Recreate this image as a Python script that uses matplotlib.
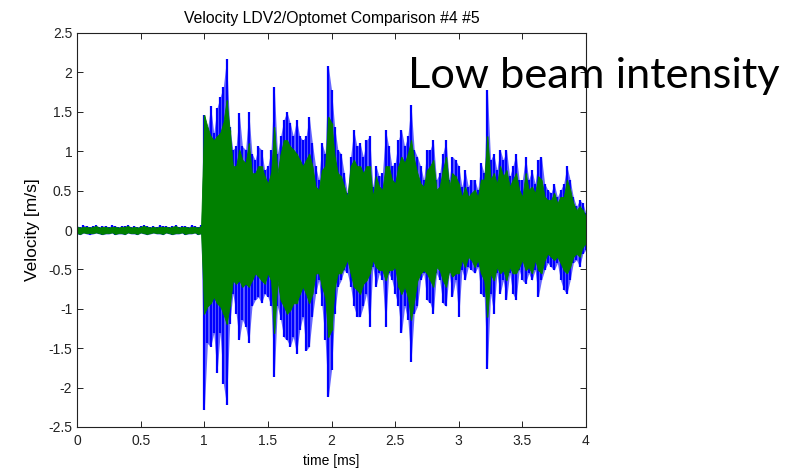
import numpy as np
import matplotlib.pyplot as plt

plt.rcParams['font.family'] = ['Liberation Sans', 'DejaVu Sans']
plt.rcParams['axes.unicode_minus'] = False

# sample instants of the envelope readings [ms]
t = np.linspace(0, 4, 161)

# LDV2 (blue) upper / lower peaks, read every 0.025 ms
ldv_up = [0.05, 0.04, 0.06, 0.05, 0.04, 0.05, 0.06, 0.04, 0.05, 0.05,
          0.04, 0.06, 0.05, 0.04, 0.05, 0.05, 0.06, 0.04, 0.05, 0.04,
          0.05, 0.06, 0.05, 0.04, 0.05, 0.04, 0.06, 0.05, 0.05, 0.04,
          0.05, 0.06, 0.04, 0.05, 0.05, 0.04, 0.06, 0.05, 0.04, 0.06,
          1.46, 1.27, 1.57, 1.23, 1.55, 1.69, 1.82, 2.17, 1.31, 1.02,
          1.06, 1.48, 1.06, 1.02, 1.50, 0.97, 0.89, 1.06, 1.02, 0.76,
          0.81, 1.02, 1.82, 0.97, 1.19, 1.40, 1.50, 1.36, 1.19, 1.40,
          1.19, 1.14, 1.19, 1.44, 1.10, 0.81, 0.64, 1.10, 0.97, 2.08,
          1.78, 1.31, 1.02, 0.97, 0.72, 0.47, 0.93, 1.27, 1.06, 1.10,
          0.93, 1.14, 1.19, 0.55, 0.81, 0.68, 0.72, 1.27, 1.06, 0.81,
          0.85, 1.14, 1.27, 1.06, 1.19, 1.59, 1.02, 0.93, 0.81, 0.64,
          1.02, 1.02, 1.14, 0.64, 0.72, 0.97, 1.14, 0.64, 0.93, 0.89,
          0.81, 0.55, 0.76, 0.55, 0.64, 0.64, 0.51, 0.85, 0.72, 1.78,
          0.89, 0.97, 0.76, 1.02, 0.89, 1.02, 0.68, 0.81, 0.97, 0.64,
          0.64, 0.93, 0.64, 0.76, 0.59, 0.89, 0.93, 0.59, 0.51, 0.47,
          0.59, 0.42, 0.51, 0.59, 0.81, 0.64, 0.42, 0.30, 0.38, 0.34, 0.21]
ldv_lo = [-0.05, -0.06, -0.04, -0.05, -0.06, -0.05, -0.04, -0.05, -0.06, -0.05,
          -0.05, -0.04, -0.06, -0.05, -0.05, -0.06, -0.04, -0.05, -0.05, -0.06,
          -0.04, -0.05, -0.06, -0.05, -0.04, -0.05, -0.05, -0.06, -0.04, -0.05,
          -0.06, -0.05, -0.05, -0.04, -0.06, -0.05, -0.05, -0.04, -0.06, -0.05,
          -2.29, -1.44, -1.48, -1.31, -1.82, -1.31, -1.95, -2.22, -1.19, -0.81,
          -1.06, -1.40, -1.14, -1.23, -1.44, -0.97, -0.89, -0.85, -0.93, -0.81,
          -0.85, -0.97, -1.86, -0.97, -1.14, -1.36, -1.40, -1.48, -1.36, -1.57,
          -1.27, -1.10, -1.53, -1.48, -1.10, -0.81, -0.64, -0.97, -1.40, -2.12,
          -1.78, -1.06, -0.72, -0.64, -0.51, -0.55, -0.72, -0.97, -1.10, -1.10,
          -0.97, -0.81, -1.23, -0.47, -0.72, -0.55, -0.64, -1.23, -0.55, -0.64,
          -0.81, -0.97, -1.31, -0.97, -1.14, -1.67, -1.06, -0.97, -0.64, -0.55,
          -0.89, -0.93, -1.06, -0.55, -0.64, -0.93, -0.97, -0.55, -0.85, -0.64,
          -1.10, -0.51, -0.64, -0.47, -0.51, -0.55, -0.47, -0.81, -0.85, -1.76,
          -0.81, -1.06, -0.55, -0.81, -0.64, -0.89, -0.55, -0.81, -0.89, -0.51,
          -0.64, -0.68, -0.55, -0.64, -0.51, -0.85, -0.64, -0.51, -0.42, -0.47,
          -0.51, -0.42, -0.64, -0.76, -0.81, -0.64, -0.42, -0.38, -0.47, -0.30, -0.25]

# Optomet (green) upper / lower peaks
opt_up = [0.04, 0.03, 0.04, 0.04, 0.03, 0.04, 0.05, 0.03, 0.04, 0.04,
          0.03, 0.04, 0.04, 0.03, 0.04, 0.04, 0.05, 0.03, 0.04, 0.03,
          0.04, 0.05, 0.04, 0.03, 0.04, 0.03, 0.04, 0.04, 0.04, 0.03,
          0.04, 0.05, 0.03, 0.04, 0.04, 0.03, 0.04, 0.04, 0.03, 0.05,
          1.46, 1.31, 1.19, 1.14, 1.19, 1.23, 1.36, 1.65, 1.27, 0.81,
          0.81, 1.02, 0.89, 0.85, 1.10, 0.72, 0.72, 0.81, 0.81, 0.68,
          0.59, 0.72, 1.31, 0.72, 0.97, 1.14, 1.14, 1.06, 1.02, 0.97,
          0.89, 0.81, 0.89, 0.97, 0.81, 0.55, 0.51, 0.76, 0.81, 1.44,
          1.36, 0.93, 0.72, 0.68, 0.55, 0.42, 0.81, 0.89, 0.81, 0.81,
          0.72, 0.81, 0.81, 0.42, 0.68, 0.55, 0.51, 0.81, 0.81, 0.64,
          0.59, 0.81, 0.93, 0.85, 0.97, 1.14, 0.89, 0.72, 0.59, 0.55,
          0.76, 0.81, 0.89, 0.51, 0.55, 0.76, 0.93, 0.55, 0.72, 0.68,
          0.59, 0.42, 0.55, 0.42, 0.47, 0.51, 0.42, 0.64, 0.64, 1.19,
          0.64, 0.72, 0.59, 0.81, 0.68, 0.76, 0.55, 0.64, 0.72, 0.51,
          0.42, 0.72, 0.51, 0.55, 0.47, 0.68, 0.64, 0.42, 0.38, 0.38,
          0.47, 0.34, 0.42, 0.42, 0.64, 0.51, 0.34, 0.25, 0.30, 0.25, 0.17]
opt_lo = [-0.04, -0.05, -0.03, -0.04, -0.04, -0.04, -0.03, -0.04, -0.05, -0.04,
          -0.04, -0.03, -0.05, -0.04, -0.04, -0.05, -0.03, -0.04, -0.04, -0.05,
          -0.03, -0.04, -0.05, -0.04, -0.03, -0.04, -0.04, -0.05, -0.03, -0.04,
          -0.05, -0.04, -0.04, -0.03, -0.05, -0.04, -0.04, -0.03, -0.05, -0.04,
          -1.06, -0.97, -0.93, -0.85, -0.93, -0.97, -1.06, -1.19, -0.97, -0.64,
          -0.68, -0.64, -0.72, -0.68, -0.72, -0.64, -0.55, -0.59, -0.64, -0.68,
          -0.55, -0.64, -1.31, -0.64, -0.89, -0.97, -1.06, -1.02, -0.93, -0.93,
          -0.81, -0.72, -0.81, -0.93, -0.81, -0.55, -0.55, -0.72, -0.85, -1.36,
          -1.27, -0.72, -0.55, -0.55, -0.47, -0.38, -0.55, -0.72, -0.76, -0.81,
          -0.68, -0.64, -0.55, -0.38, -0.47, -0.51, -0.51, -0.64, -0.51, -0.51,
          -0.47, -0.72, -0.81, -0.72, -0.85, -1.14, -0.89, -0.64, -0.55, -0.51,
          -0.55, -0.64, -0.72, -0.47, -0.51, -0.64, -0.72, -0.51, -0.59, -0.55,
          -0.55, -0.38, -0.47, -0.34, -0.38, -0.47, -0.38, -0.55, -0.64, -1.10,
          -0.55, -0.64, -0.47, -0.55, -0.51, -0.64, -0.47, -0.55, -0.55, -0.47,
          -0.38, -0.51, -0.47, -0.55, -0.38, -0.51, -0.55, -0.38, -0.30, -0.34,
          -0.38, -0.34, -0.42, -0.51, -0.55, -0.47, -0.34, -0.30, -0.34, -0.21, -0.17]

fig = plt.figure(figsize=(8.04, 4.69), dpi=100)
ax = fig.add_axes([77 / 804, 1 - 427 / 469, 509 / 804, 394 / 469])

# dense signals drawn from their peak readings: LDV2 spikes, Optomet band on top
ax.fill_between(t, ldv_lo, ldv_up, color='#0000ff', alpha=0.6, lw=0, zorder=1)
ax.vlines(t, ldv_lo, ldv_up, color='#0000ff', lw=1.6, zorder=2)
ax.fill_between(t, opt_lo, opt_up, color='#008000', lw=0.6, zorder=3)
ax.vlines(t, opt_lo, opt_up, color='#008000', lw=1.0, zorder=4)

ax.set_xlim(0, 4)
ax.set_ylim(-2.5, 2.5)
ax.set_xticks(np.arange(0, 4.01, 0.5))
ax.set_yticks(np.arange(-2.5, 2.51, 0.5))
ax.set_xticklabels(['0', '0.5', '1', '1.5', '2', '2.5', '3', '3.5', '4'])
ax.set_yticklabels(['-2.5', '-2', '-1.5', '-1', '-0.5', '0', '0.5', '1', '1.5', '2', '2.5'])
ax.tick_params(direction='in', top=True, right=True, length=4, width=0.7,
               labelsize=10, colors='#222222')
ax.tick_params(axis='x', pad=5)
for s in ax.spines.values():
    s.set_linewidth(0.8)
    s.set_color('#222222')
    s.set_zorder(5)

ax.set_title('Velocity LDV2/Optomet Comparison #4 #5', fontsize=11.3, pad=7)
ax.set_xlabel('time [ms]', fontsize=10, labelpad=4)
ax.set_ylabel('Velocity [m/s]', fontsize=12.5, labelpad=6)

fig.text(408 / 804, 1 - 88 / 469, 'Low beam intensity', fontsize=31.2,
         family=['Lato', 'DejaVu Sans'], color='black')

fig.savefig('out.png', dpi=100)
